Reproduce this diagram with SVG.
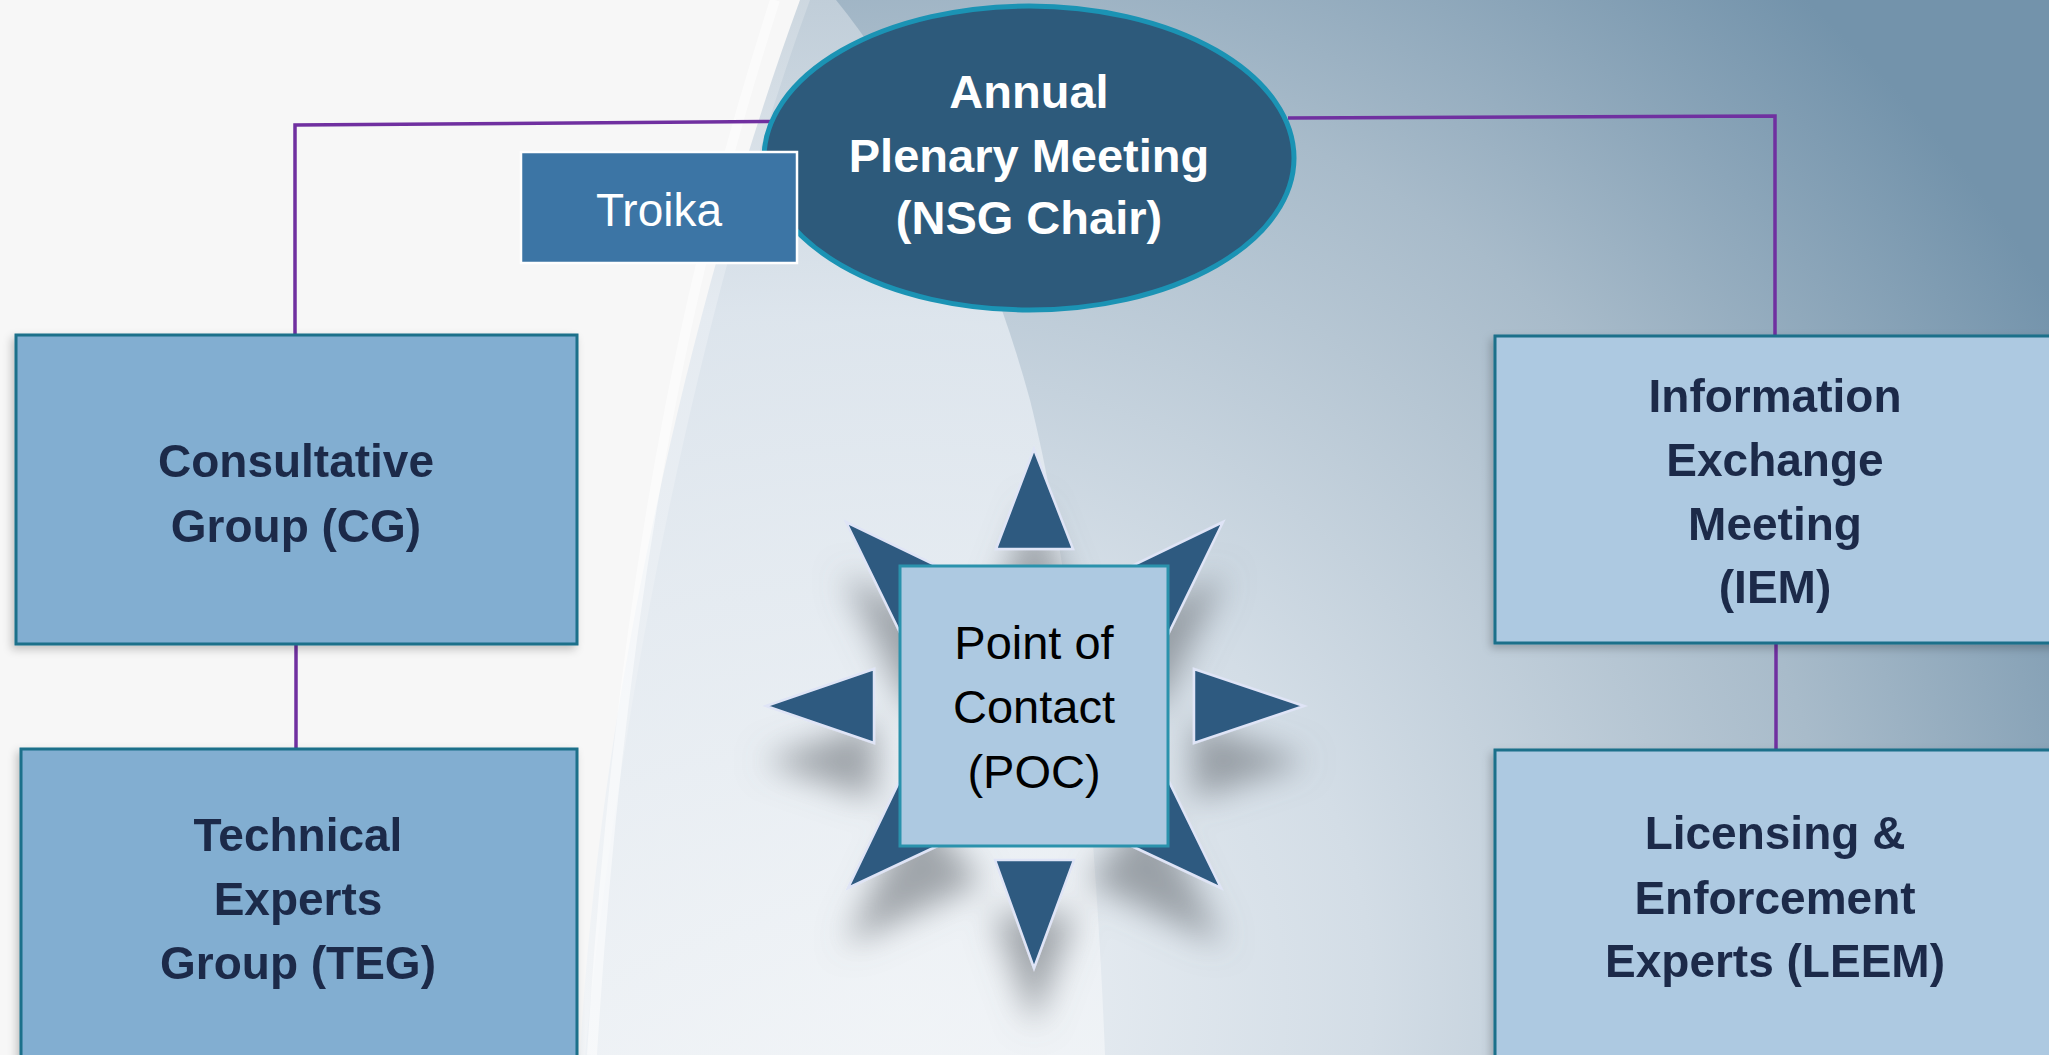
<svg xmlns="http://www.w3.org/2000/svg" width="2049" height="1055" viewBox="0 0 2049 1055">
<defs>
<radialGradient id="bgR" gradientUnits="userSpaceOnUse" cx="900" cy="1000" r="1350">
<stop offset="0" stop-color="#eef2f6"/>
<stop offset="0.35" stop-color="#d3dde6"/>
<stop offset="0.7" stop-color="#a8bbca"/>
<stop offset="1" stop-color="#7393ab"/>
</radialGradient>
<linearGradient id="lite" x1="0" y1="0" x2="0" y2="1">
<stop offset="0" stop-color="#c6d2dc"/>
<stop offset="0.3" stop-color="#e2e9f0"/>
<stop offset="1" stop-color="#f1f4f7"/>
</linearGradient>
<filter id="starShadow" x="-30%" y="-30%" width="160%" height="170%">
<feGaussianBlur in="SourceAlpha" stdDeviation="16"/>
<feOffset dx="0" dy="55" result="b"/>
<feFlood flood-color="#6c7278" flood-opacity="0.6"/>
<feComposite in2="b" operator="in" result="s"/>
<feMerge><feMergeNode in="s"/><feMergeNode in="SourceGraphic"/></feMerge>
</filter>
<filter id="boxShadow" x="-5%" y="-5%" width="110%" height="110%">
<feGaussianBlur in="SourceAlpha" stdDeviation="4"/>
<feOffset dx="-3" dy="4" result="b"/>
<feFlood flood-color="#000" flood-opacity="0.22"/>
<feComposite in2="b" operator="in" result="s"/>
<feMerge><feMergeNode in="s"/><feMergeNode in="SourceGraphic"/></feMerge>
</filter>
</defs>
<style>
.box{stroke:#1b6f8a;stroke-width:3}
.dk{fill:#82aed1}
.lt{fill:#adc9e1}
.lbl{font-family:"Liberation Sans",Arial,sans-serif;font-weight:bold;font-size:46px;fill:#1c2a4a;text-anchor:middle}
.wt{font-family:"Liberation Sans",Arial,sans-serif;fill:#ffffff;text-anchor:middle}
.poc{font-family:"Liberation Sans",Arial,sans-serif;font-size:47px;fill:#000;text-anchor:middle}
.tri{fill:#2d5a80;stroke:#dfe4f6;stroke-width:2.5;stroke-linejoin:miter}
.con{stroke:#7030a0;stroke-width:3.5;fill:none}
</style>
<rect x="0" y="0" width="2049" height="1055" fill="#f7f7f7"/>
<path d="M810 0 L2049 0 L2049 1055 L585 1055 C620 700 700 300 810 0 Z" fill="url(#bgR)"/>
<path d="M800 0 L836 0 C925 110 992 260 1030 400 C1070 560 1095 800 1105 1055 L580 1055 C600 700 690 300 800 0 Z" fill="url(#lite)" opacity="0.85"/>
<path d="M775 0 C705 220 625 520 592 1055" stroke="#ffffff" stroke-width="10" fill="none" opacity="0.5"/>
<g id="connectors">
<polyline class="con" points="772,121.5 295,125 295,336"/>
<polyline class="con" points="1288,118 1775,116 1775,337"/>
<line class="con" x1="296" y1="643" x2="296" y2="750"/>
<line class="con" x1="1776" y1="643" x2="1776" y2="750"/>
</g>
<g id="node-apm">
<ellipse cx="1029" cy="158" rx="265" ry="152" fill="#2d5a7b" stroke="#1b93b4" stroke-width="5"/>
<text class="wt" font-weight="bold" font-size="47" x="1029" y="108">Annual</text>
<text class="wt" font-weight="bold" font-size="47" x="1029" y="172">Plenary Meeting</text>
<text class="wt" font-weight="bold" font-size="47" x="1029" y="234">(NSG Chair)</text>
</g>
<g id="node-troika">
<rect x="521" y="152" width="276" height="111" fill="#3c75a5" stroke="#ffffff" stroke-width="2.5"/>
<text class="wt" font-size="46" x="659" y="226">Troika</text>
</g>
<g id="node-cg" filter="url(#boxShadow)">
<rect class="box dk" x="16" y="335" width="561" height="309"/>
<text class="lbl" x="296" y="477">Consultative</text>
<text class="lbl" x="296" y="542">Group (CG)</text>
</g>
<g id="node-teg" filter="url(#boxShadow)">
<rect class="box dk" x="21" y="749" width="556" height="330"/>
<text class="lbl" x="298" y="851">Technical</text>
<text class="lbl" x="298" y="915">Experts</text>
<text class="lbl" x="298" y="979">Group (TEG)</text>
</g>
<g id="node-iem" filter="url(#boxShadow)">
<rect class="box lt" x="1495" y="336" width="580" height="307"/>
<text class="lbl" x="1775" y="412">Information</text>
<text class="lbl" x="1775" y="476">Exchange</text>
<text class="lbl" x="1775" y="540">Meeting</text>
<text class="lbl" x="1775" y="603">(IEM)</text>
</g>
<g id="node-leem" filter="url(#boxShadow)">
<rect class="box lt" x="1495" y="750" width="580" height="330"/>
<text class="lbl" x="1775" y="849">Licensing &amp;</text>
<text class="lbl" x="1775" y="914">Enforcement</text>
<text class="lbl" x="1775" y="977">Experts (LEEM)</text>
</g>
<g id="node-poc">
<g filter="url(#starShadow)">
<polygon class="tri" points="1034,449 996,549 1073,549"/>
<polygon class="tri" points="1034,968 995,860 1074,860"/>
<polygon class="tri" points="766,706 874,669 874,743"/>
<polygon class="tri" points="1304,706 1194,669 1194,743"/>
<polygon class="tri" points="846,522 981,587 912,657"/>
<polygon class="tri" points="1223,522 1088,587 1157,657"/>
<polygon class="tri" points="848,888 914,751 980,826"/>
<polygon class="tri" points="1221,888 1154,751 1089,826"/>
</g>
<rect x="900" y="566" width="268" height="280" fill="#adc9e1" stroke="#2a92ac" stroke-width="3"/>
<text class="poc" x="1034" y="659">Point of</text>
<text class="poc" x="1034" y="723">Contact</text>
<text class="poc" x="1034" y="788">(POC)</text>
</g>
</svg>
